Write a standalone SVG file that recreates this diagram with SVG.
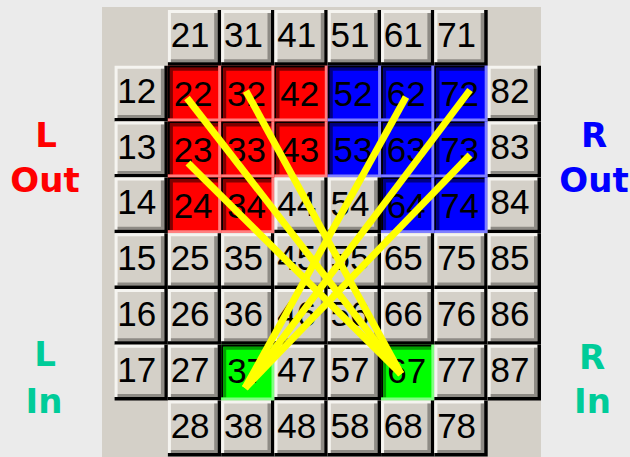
<svg xmlns="http://www.w3.org/2000/svg" xmlns:xlink="http://www.w3.org/1999/xlink" width="630" height="457" viewBox="0 0 630 457">
<style>
.t{font-family:"Liberation Sans",Arial,sans-serif;font-size:35px;fill:#000;text-anchor:middle}
.lb{font-family:"DejaVu Sans","Verdana",sans-serif;font-weight:bold;font-size:34px;text-anchor:middle}
.y{stroke:#ffff00;stroke-width:7;stroke-linecap:butt;fill:none}
</style>
<defs>
<g id="up">
<rect width="53.3" height="55.8" fill="#d4d0c8"/>
<path d="M0 0H49.8V3H3V52.3H0Z" fill="#f5f4f0"/>
<path d="M46.3 3H49.8V52.3H3V49.3H46.3Z" fill="#8e8b85"/>
<path d="M49.8 0H53.3V55.8H0V52.3H49.8Z" fill="#000"/>
</g>
<g id="pr">
<rect width="53.3" height="55.8" fill="#ff0000"/>
<path d="M0 0H50.3V2H2V52.8H0Z" fill="#000"/>
<path d="M2 2H50.3V5H5V52.8H2Z" fill="#800000"/>
<path d="M50.3 0H53.3V55.8H0V52.8H50.3Z" fill="#ff8080"/>
</g>
<g id="pb">
<rect width="53.3" height="55.8" fill="#0000ff"/>
<path d="M0 0H50.3V2H2V52.8H0Z" fill="#000"/>
<path d="M2 2H50.3V5H5V52.8H2Z" fill="#000080"/>
<path d="M50.3 0H53.3V55.8H0V52.8H50.3Z" fill="#8080ff"/>
</g>
<g id="pg">
<rect width="53.3" height="55.8" fill="#00ff00"/>
<path d="M0 0H50.3V2H2V52.8H0Z" fill="#000"/>
<path d="M2 2H50.3V5H5V52.8H2Z" fill="#00a000"/>
<path d="M50.3 0H53.3V55.8H0V52.8H50.3Z" fill="#80ff80"/>
</g>
</defs>
<rect width="630" height="457" fill="#ebebeb"/>
<rect x="102" y="7" width="439" height="450" fill="#d4d0c8"/>

<g id="labels">
<text class="lb" x="46" y="146.5" fill="#ff0000">L</text>
<text class="lb" x="45" y="191.5" fill="#ff0000">Out</text>
<text class="lb" x="594" y="146.5" fill="#0000ff">R</text>
<text class="lb" x="594" y="191.5" fill="#0000ff">Out</text>
<text class="lb" x="45" y="366" fill="#00cc99">L</text>
<text class="lb" x="44" y="413" fill="#00cc99">In</text>
<text class="lb" x="592" y="369" fill="#00cc99">R</text>
<text class="lb" x="592.5" y="413" fill="#00cc99">In</text>
</g>

<g id="n21"><use href="#up" x="167.9" y="10"/><text class="t" x="190.1" y="47">21</text></g>
<g id="n31"><use href="#up" x="221.2" y="10"/><text class="t" x="243.4" y="47">31</text></g>
<g id="n41"><use href="#up" x="274.5" y="10"/><text class="t" x="296.7" y="47">41</text></g>
<g id="n51"><use href="#up" x="327.8" y="10"/><text class="t" x="350" y="47">51</text></g>
<g id="n61"><use href="#up" x="381.1" y="10"/><text class="t" x="403.3" y="47">61</text></g>
<g id="n71"><use href="#up" x="434.4" y="10"/><text class="t" x="456.6" y="47">71</text></g>

<g id="n12"><use href="#up" x="114.6" y="65.8"/><text class="t" x="136.8" y="102.8">12</text></g>
<g id="n22"><use href="#pr" x="167.9" y="65.8"/><text class="t" x="193.1" y="106.3">22</text></g>
<g id="n32"><use href="#pr" x="221.2" y="65.8"/><text class="t" x="246.4" y="106.3">32</text></g>
<g id="n42"><use href="#pr" x="274.5" y="65.8"/><text class="t" x="299.7" y="106.3">42</text></g>
<g id="n52"><use href="#pb" x="327.8" y="65.8"/><text class="t" x="353" y="106.3">52</text></g>
<g id="n62"><use href="#pb" x="381.1" y="65.8"/><text class="t" x="406.3" y="106.3">62</text></g>
<g id="n72"><use href="#pb" x="434.4" y="65.8"/><text class="t" x="459.6" y="106.3">72</text></g>
<g id="n82"><use href="#up" x="487.7" y="65.8"/><text class="t" x="509.9" y="102.8">82</text></g>

<g id="n13"><use href="#up" x="114.6" y="121.6"/><text class="t" x="136.8" y="158.6">13</text></g>
<g id="n23"><use href="#pr" x="167.9" y="121.6"/><text class="t" x="193.1" y="162.1">23</text></g>
<g id="n33"><use href="#pr" x="221.2" y="121.6"/><text class="t" x="246.4" y="162.1">33</text></g>
<g id="n43"><use href="#pr" x="274.5" y="121.6"/><text class="t" x="299.7" y="162.1">43</text></g>
<g id="n53"><use href="#pb" x="327.8" y="121.6"/><text class="t" x="353" y="162.1">53</text></g>
<g id="n63"><use href="#pb" x="381.1" y="121.6"/><text class="t" x="406.3" y="162.1">63</text></g>
<g id="n73"><use href="#pb" x="434.4" y="121.6"/><text class="t" x="459.6" y="162.1">73</text></g>
<g id="n83"><use href="#up" x="487.7" y="121.6"/><text class="t" x="509.9" y="158.6">83</text></g>

<g id="n14"><use href="#up" x="114.6" y="177.4"/><text class="t" x="136.8" y="214.4">14</text></g>
<g id="n24"><use href="#pr" x="167.9" y="177.4"/><text class="t" x="193.1" y="217.9">24</text></g>
<g id="n34"><use href="#pr" x="221.2" y="177.4"/><text class="t" x="246.4" y="217.9">34</text></g>
<g id="n44"><use href="#up" x="274.5" y="177.4"/><text class="t" x="296.7" y="216">44</text></g>
<g id="n54"><use href="#up" x="327.8" y="177.4"/><text class="t" x="350" y="216">54</text></g>
<g id="n64"><use href="#pb" x="381.1" y="177.4"/><text class="t" x="406.3" y="217.9">64</text></g>
<g id="n74"><use href="#pb" x="434.4" y="177.4"/><text class="t" x="459.6" y="217.9">74</text></g>
<g id="n84"><use href="#up" x="487.7" y="177.4"/><text class="t" x="509.9" y="214.4">84</text></g>

<g id="n15"><use href="#up" x="114.6" y="233.2"/><text class="t" x="136.8" y="270.2">15</text></g>
<g id="n25"><use href="#up" x="167.9" y="233.2"/><text class="t" x="190.1" y="270.2">25</text></g>
<g id="n35"><use href="#up" x="221.2" y="233.2"/><text class="t" x="243.4" y="270.2">35</text></g>
<g id="n45"><use href="#up" x="274.5" y="233.2"/><text class="t" x="296.7" y="270.2">45</text></g>
<g id="n55"><use href="#up" x="327.8" y="233.2"/><text class="t" x="350" y="270.2">55</text></g>
<g id="n65"><use href="#up" x="381.1" y="233.2"/><text class="t" x="403.3" y="270.2">65</text></g>
<g id="n75"><use href="#up" x="434.4" y="233.2"/><text class="t" x="456.6" y="270.2">75</text></g>
<g id="n85"><use href="#up" x="487.7" y="233.2"/><text class="t" x="509.9" y="270.2">85</text></g>

<g id="n16"><use href="#up" x="114.6" y="289"/><text class="t" x="136.8" y="326">16</text></g>
<g id="n26"><use href="#up" x="167.9" y="289"/><text class="t" x="190.1" y="326">26</text></g>
<g id="n36"><use href="#up" x="221.2" y="289"/><text class="t" x="243.4" y="326">36</text></g>
<g id="n46"><use href="#up" x="274.5" y="289"/><text class="t" x="296.7" y="326">46</text></g>
<g id="n56"><use href="#up" x="327.8" y="289"/><text class="t" x="350" y="326">56</text></g>
<g id="n66"><use href="#up" x="381.1" y="289"/><text class="t" x="403.3" y="326">66</text></g>
<g id="n76"><use href="#up" x="434.4" y="289"/><text class="t" x="456.6" y="326">76</text></g>
<g id="n86"><use href="#up" x="487.7" y="289"/><text class="t" x="509.9" y="326">86</text></g>

<g id="n17"><use href="#up" x="114.6" y="344.8"/><text class="t" x="136.8" y="381.8">17</text></g>
<g id="n27"><use href="#up" x="167.9" y="344.8"/><text class="t" x="190.1" y="381.8">27</text></g>
<g id="n37"><use href="#pg" x="221.2" y="344.8"/><text class="t" x="246.6" y="382.8">37</text></g>
<g id="n47"><use href="#up" x="274.5" y="344.8"/><text class="t" x="296.7" y="381.8">47</text></g>
<g id="n57"><use href="#up" x="327.8" y="344.8"/><text class="t" x="350" y="381.8">57</text></g>
<g id="n67"><use href="#pg" x="381.1" y="344.8"/><text class="t" x="406.8" y="382.8">67</text></g>
<g id="n77"><use href="#up" x="434.4" y="344.8"/><text class="t" x="456.6" y="381.8">77</text></g>
<g id="n87"><use href="#up" x="487.7" y="344.8"/><text class="t" x="509.9" y="381.8">87</text></g>

<g id="n28"><use href="#up" x="167.9" y="400.6"/><text class="t" x="190.1" y="437.6">28</text></g>
<g id="n38"><use href="#up" x="221.2" y="400.6"/><text class="t" x="243.4" y="437.6">38</text></g>
<g id="n48"><use href="#up" x="274.5" y="400.6"/><text class="t" x="296.7" y="437.6">48</text></g>
<g id="n58"><use href="#up" x="327.8" y="400.6"/><text class="t" x="350" y="437.6">58</text></g>
<g id="n68"><use href="#up" x="381.1" y="400.6"/><text class="t" x="403.3" y="437.6">68</text></g>
<g id="n78"><use href="#up" x="434.4" y="400.6"/><text class="t" x="456.6" y="437.6">78</text></g>

<g id="connectors">
<line class="y" x1="187" y1="98" x2="401" y2="374"/>
<line class="y" x1="246" y1="91" x2="401" y2="374"/>
<line class="y" x1="188" y1="163" x2="401" y2="374"/>
<line class="y" x1="406" y1="97" x2="245" y2="388"/>
<line class="y" x1="470" y1="90" x2="245" y2="388"/>
<line class="y" x1="470" y1="155" x2="245" y2="388"/>
</g>
</svg>
